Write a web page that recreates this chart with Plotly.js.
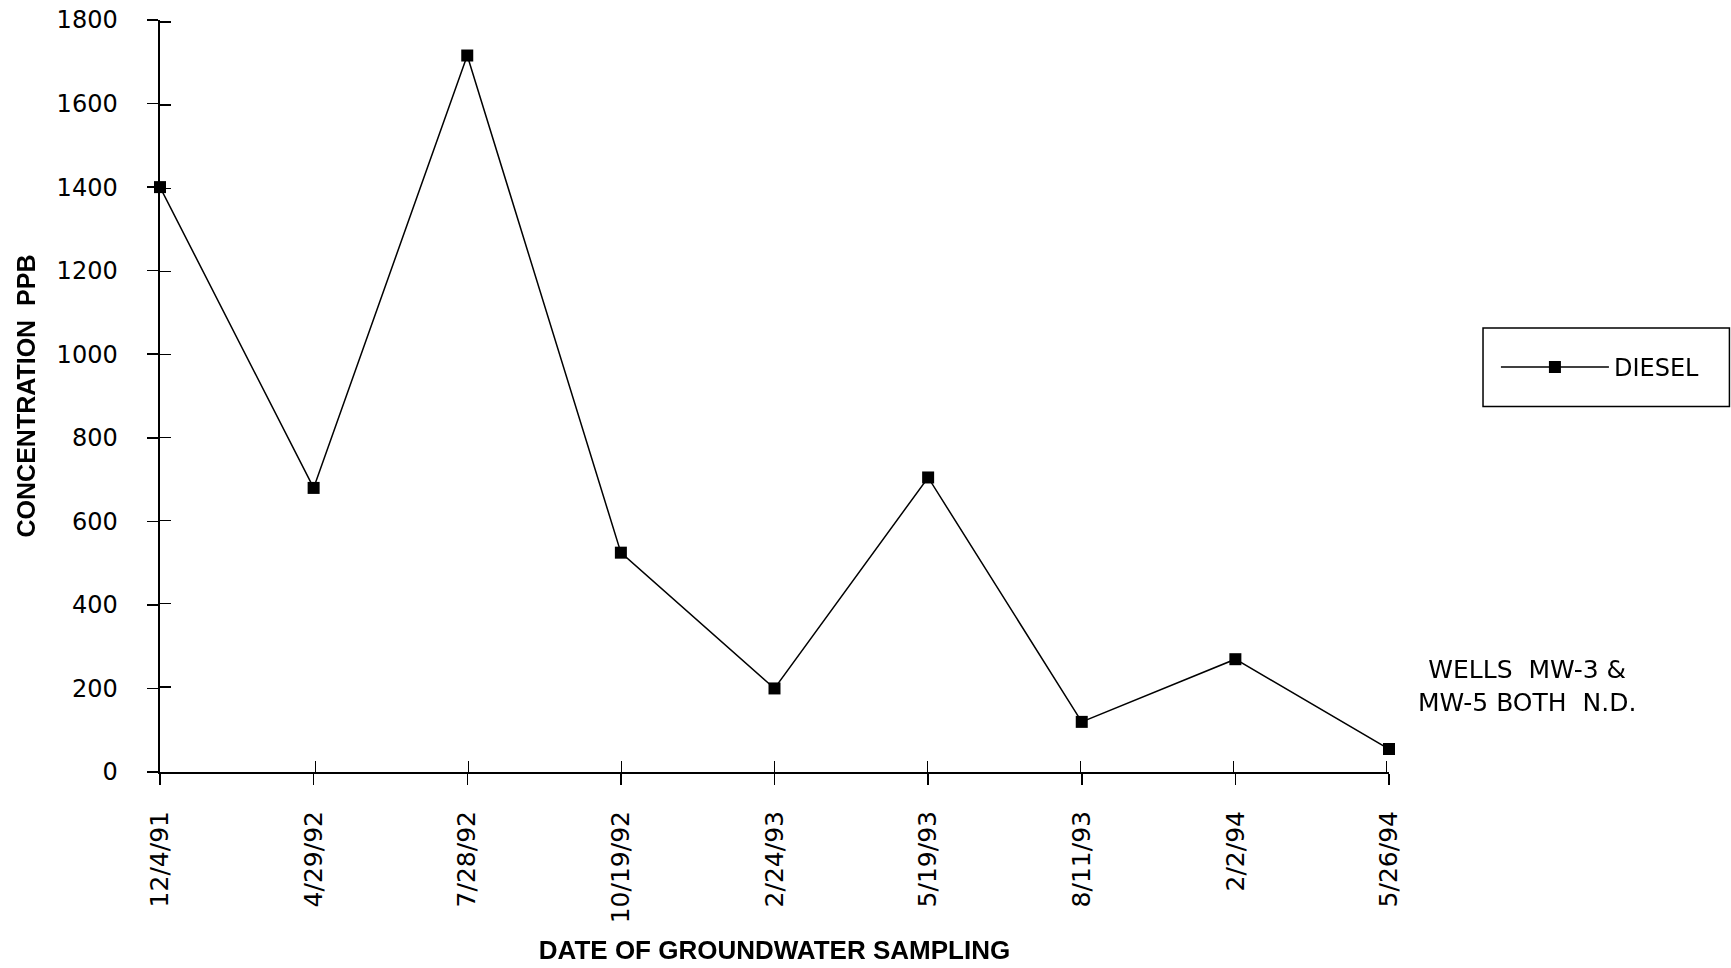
<!DOCTYPE html>
<html>
<head>
<meta charset="utf-8">
<script src="https://cdn.plot.ly/plotly-3.0.1.min.js"></script>
<style>html,body{margin:0;padding:0;background:#fff;}#chart{width:1731px;height:968px;}</style>
</head>
<body>
<div id="chart"></div>
<script>
// Data
const samplingDates = ["12/4/91", "4/29/92", "7/28/92", "10/19/92", "2/24/93", "5/19/93", "8/11/93", "2/2/94", "5/26/94"];
const dieselPPB = [1400, 680, 1715, 525, 200, 705, 120, 270, 55];
const yTickValues = [0, 200, 400, 600, 800, 1000, 1200, 1400, 1600, 1800];
const seriesName = "DIESEL";
const noteText = "WELLS\u00a0\u00a0MW-3 &<br>MW-5 BOTH\u00a0\u00a0N.D.";

const FONT = "DejaVu Sans, Verdana, sans-serif";
const BOLD = "Liberation Sans, Arial, Helvetica, sans-serif";

const traces = [
  {
    x: samplingDates, y: dieselPPB, type: "scatter", mode: "lines+markers",
    name: seriesName, cliponaxis: false,
    line: {color: "#000", width: 1.5},
    marker: {symbol: "square", size: 12, color: "#000"},
    hoverinfo: "x+y"
  },
  {
    x: samplingDates, y: dieselPPB, xaxis: "x2", yaxis: "y2", type: "scatter",
    mode: "markers", opacity: 0, showlegend: false, hoverinfo: "skip"
  }
];

const layout = {
  width: 1731, height: 968,
  paper_bgcolor: "#fff", plot_bgcolor: "#fff",
  margin: {l: 160, r: 342, t: 20, b: 196},
  font: {family: FONT, color: "#000", size: 24},
  showlegend: true,
  xaxis: {
    type: "category", range: [0, 8], showgrid: false, zeroline: false,
    showline: true, linecolor: "#000", linewidth: 2,
    ticks: "outside", ticklen: 11, tickwidth: 1.5, tickcolor: "#000",
    tickangle: -90, tickfont: {family: FONT, size: 25, color: "#000"},
    ticklabelstandoff: 16,
    title: {text: "DATE OF GROUNDWATER SAMPLING", standoff: 19,
            font: {family: BOLD, size: 26, color: "#000", weight: "bold"}},
    automargin: false
  },
  xaxis2: {
    type: "category", range: [-0.015, 8.015], overlaying: "x", anchor: "y2", side: "bottom",
    tickmode: "array", tickvals: samplingDates.slice(1),
    showgrid: false, zeroline: false, showline: false,
    ticks: "inside", ticklen: 11, tickwidth: 1.5, tickcolor: "#000",
    showticklabels: false
  },
  yaxis: {
    range: [0, 1800], tickvals: yTickValues, showgrid: false, zeroline: false,
    showline: true, linecolor: "#000", linewidth: 2.5,
    ticks: "outside", ticklen: 11, tickwidth: 1.5, tickcolor: "#000",
    tickfont: {family: FONT, size: 24, color: "#000"},
    ticklabelstandoff: 24,
    title: {text: "CONCENTRATION\u00a0\u00a0PPB", standoff: 14,
            font: {family: BOLD, size: 25, color: "#000", weight: "bold"}},
    automargin: false
  },
  yaxis2: {
    range: [-5, 1805], tickvals: yTickValues.slice(1), overlaying: "y", anchor: "x2", side: "left",
    showgrid: false, zeroline: false, showline: false,
    ticks: "inside", ticklen: 11, tickwidth: 1.5, tickcolor: "#000",
    showticklabels: false
  },
  legend: {
    x: 1.087, xanchor: "left", y: 0.538, yanchor: "middle",
    bgcolor: "rgba(0,0,0,0)", borderwidth: 0, itemwidth: 108,
    font: {family: FONT, size: 24, color: "#000"}
  },
  shapes: [
    {type: "rect", xref: "paper", yref: "paper",
     x0: 1.0765, x1: 1.277, y0: 0.486, y1: 0.5904,
     line: {color: "#000", width: 1.5}, fillcolor: "rgba(0,0,0,0)"}
  ],
  annotations: [
    {text: noteText, xref: "paper", yref: "paper", x: 1.112, y: 0.114,
     xanchor: "center", yanchor: "middle", showarrow: false, align: "center",
     font: {family: FONT, size: 25, color: "#000"}}
  ]
};

Plotly.newPlot("chart", traces, layout, {displayModeBar: false, staticPlot: true});
</script>
</body>
</html>
